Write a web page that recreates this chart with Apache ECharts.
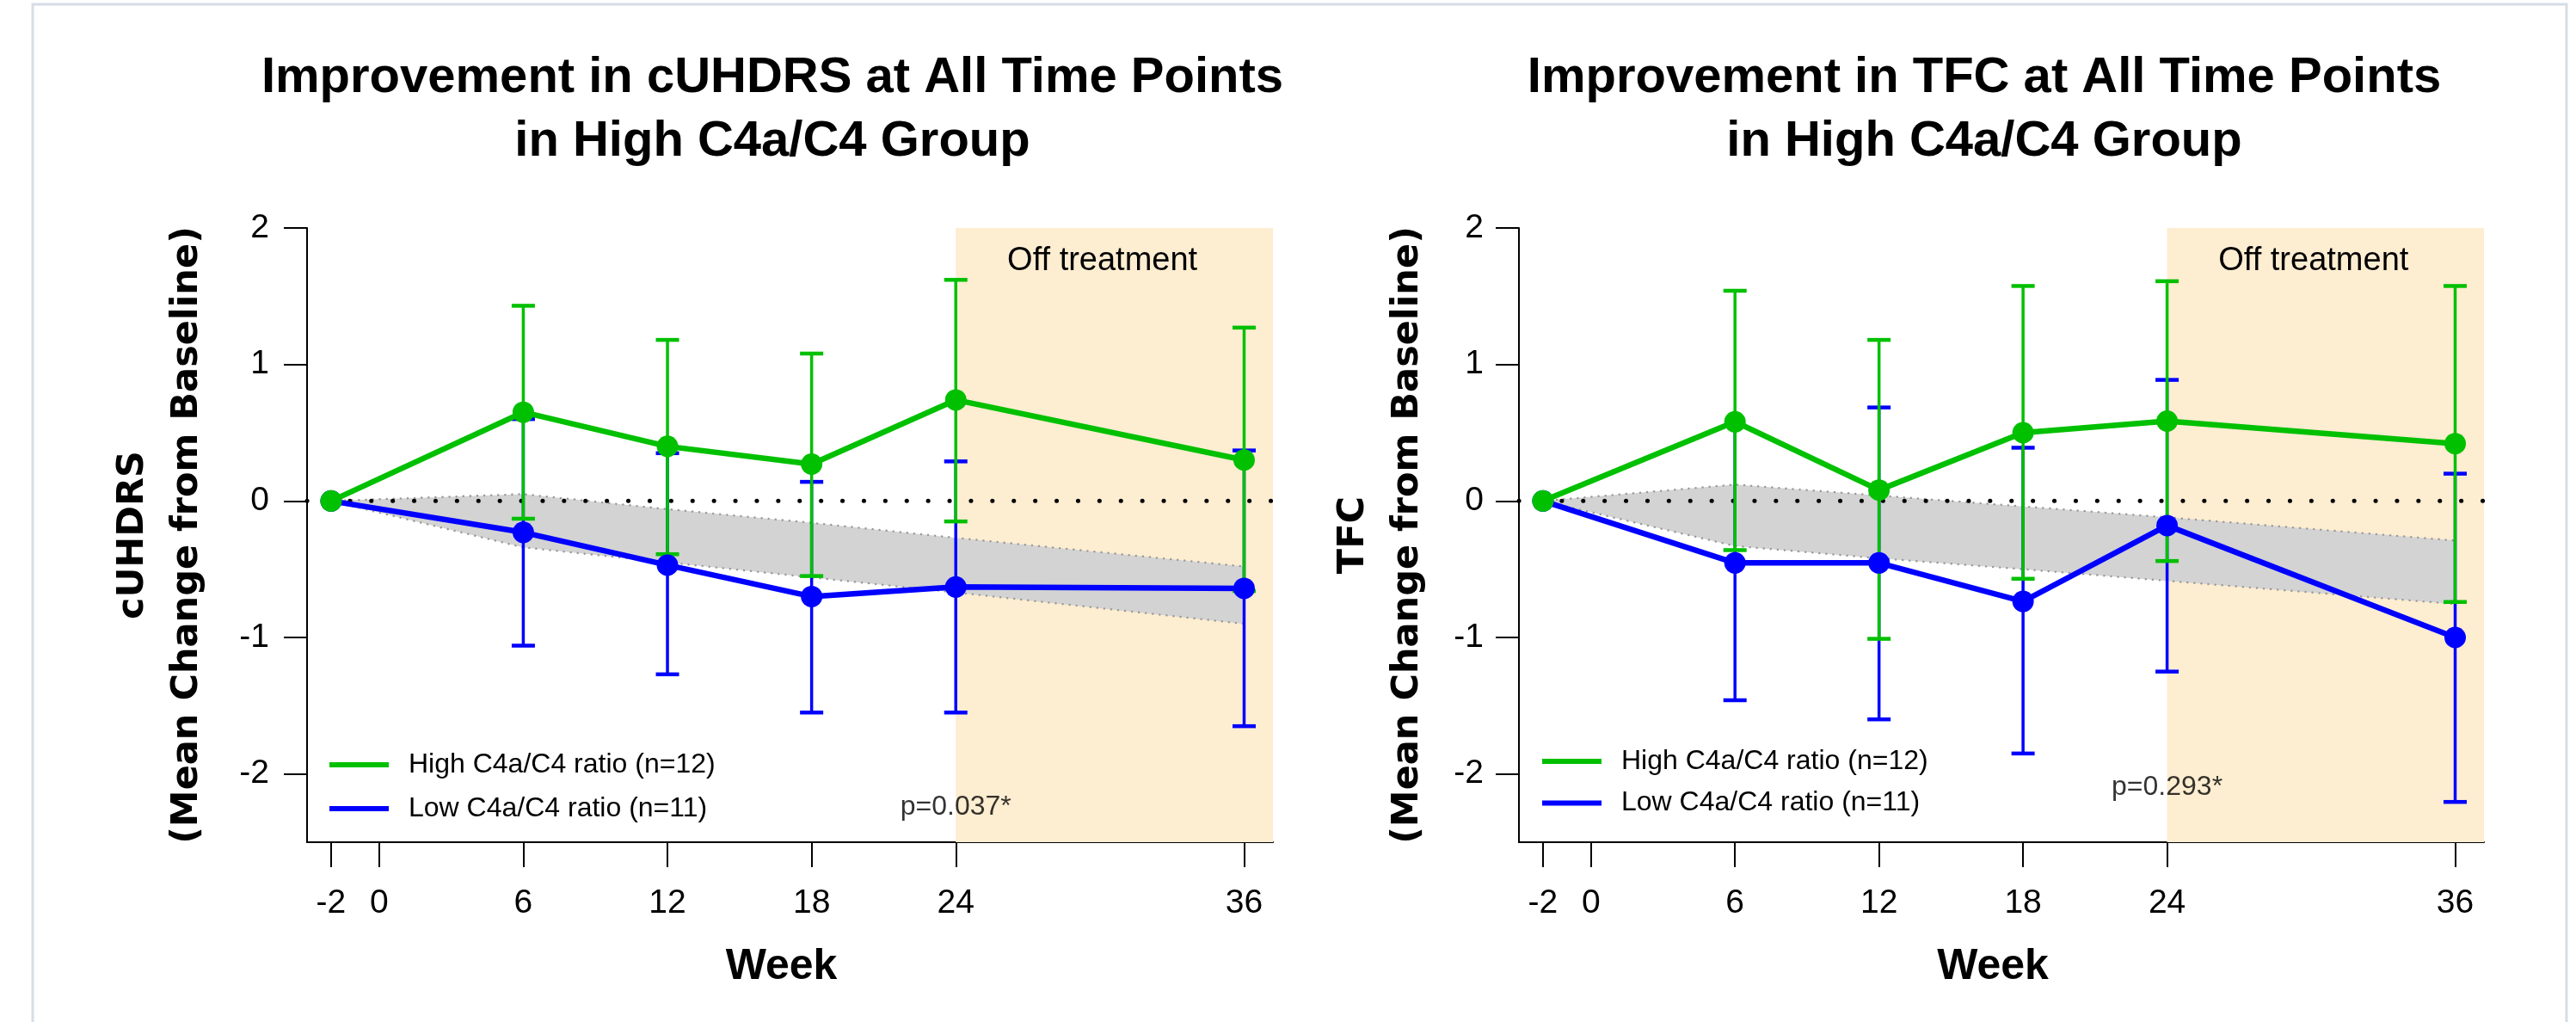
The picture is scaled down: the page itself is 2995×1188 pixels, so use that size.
<!DOCTYPE html>
<html>
<head>
<meta charset="utf-8">
<script src="https://cdn.jsdelivr.net/npm/echarts@6/dist/echarts.min.js"></script>
<style>
html,body{margin:0;padding:0;background:#fff;}
#chart{width:2995px;height:1188px;}
</style>
</head>
<body>
<div id="chart"></div>
<script>
// ---------------- DATA ----------------
const weeks = [-2, 6, 12, 18, 24, 36];
const xTicks = [-2, 0, 6, 12, 18, 24, 36];
const yTicks = [-2, -1, 0, 1, 2];
const highName = 'High C4a/C4 ratio (n=12)';
const lowName = 'Low C4a/C4 ratio (n=11)';

// Panel 1: cUHDRS
const cuHigh      = [0, 0.65, 0.40, 0.27, 0.74, 0.30];
const cuHighUpper = [null, 1.43, 1.18, 1.08, 1.62, 1.27];
const cuHighLower = [null, -0.13, -0.39, -0.55, -0.15, -0.66];
const cuLow       = [0, -0.23, -0.47, -0.70, -0.63, -0.64];
const cuLowUpper  = [null, 0.60, 0.35, 0.14, 0.29, 0.37];
const cuLowLower  = [null, -1.06, -1.27, -1.55, -1.55, -1.65];
const cuBandUpper = [0, 0.05, -0.06, -0.16, -0.27, -0.48];
const cuBandLower = [0, -0.34, -0.45, -0.56, -0.67, -0.90];

// Panel 2: TFC
const tfcHigh      = [0, 0.58, 0.08, 0.50, 0.585, 0.42];
const tfcHighUpper = [null, 1.54, 1.18, 1.575, 1.61, 1.575];
const tfcHighLower = [null, -0.36, -1.01, -0.57, -0.44, -0.74];
const tfcLow       = [0, -0.454, -0.454, -0.736, -0.18, -1.00];
const tfcLowUpper  = [null, 0.55, 0.685, 0.39, 0.887, 0.20];
const tfcLowLower  = [null, -1.46, -1.60, -1.85, -1.25, -2.205];
const tfcBandUpper = [0, 0.12, 0.04, -0.04, -0.12, -0.29];
const tfcBandLower = [0, -0.33, -0.42, -0.50, -0.585, -0.755];

const titles = [
  'Improvement in cUHDRS at All Time Points\nin High C4a/C4 Group',
  'Improvement in TFC at All Time Points\nin High C4a/C4 Group'
];
const yNames = ['cUHDRS\n(Mean Change from Baseline)', 'TFC\n(Mean Change from Baseline)'];
const pTexts = ['p=0.037*', 'p=0.293*'];
const pPos = [[24, -2.24], [24, -2.10]];
const offStart = 24;
const xRange = [-3, 37.2];
const yRange = [-2.5, 2];

// ---------------- STYLE ----------------
const GREEN = '#00C000';
const BLUE = '#0000FF';
const ORANGE = '#FDEDD1';
const BAND = '#D3D3D3';
const NARROW = '"Liberation Sans", Arial, sans-serif';
const WIDE = '"DejaVu Sans", Verdana, sans-serif';

const chart = echarts.init(document.getElementById('chart'), null, {renderer: 'canvas'});

function zip(xs, ys) { return xs.map((x, i) => [x, ys[i]]); }
function errData(xs, lo, hi) {
  const out = [];
  xs.forEach((x, i) => { if (lo[i] !== null && hi[i] !== null) out.push([x, lo[i], hi[i]]); });
  return out;
}
function errRender(color) {
  return function (params, api) {
    const x = api.value(0), lo = api.value(1), hi = api.value(2);
    const a = api.coord([x, hi]), b = api.coord([x, lo]);
    const hw = 13.5;
    return {
      type: 'group',
      children: [
        {type: 'line', shape: {x1: a[0], y1: a[1], x2: b[0], y2: b[1]}, style: {stroke: color, lineWidth: 3.5}},
        {type: 'line', shape: {x1: a[0] - hw, y1: a[1], x2: a[0] + hw, y2: a[1]}, style: {stroke: color, lineWidth: 4.5}},
        {type: 'line', shape: {x1: b[0] - hw, y1: b[1], x2: b[0] + hw, y2: b[1]}, style: {stroke: color, lineWidth: 4.5}}
      ]
    };
  };
}
function bandRender(xs, up, lo) {
  return function (params, api) {
    if (params.dataIndex !== 0) return null;
    const pts = [];
    xs.forEach((x, i) => pts.push(api.coord([x, up[i]])));
    for (let i = xs.length - 1; i >= 0; i--) pts.push(api.coord([xs[i], lo[i]]));
    return {
      type: 'polygon',
      shape: {points: pts},
      style: {fill: BAND, stroke: '#9a9a9a', lineWidth: 2.5, lineDash: [0.1, 8], lineCap: 'round'}
    };
  };
}

const grids = [
  {left: 357, top: 265, width: 1123, height: 714},
  {left: 1766, top: 265, width: 1122, height: 714}
];
const titleX = [898, 2307];
const yNameGap = [108, 98];
const ySeries = [
  {high: cuHigh, hu: cuHighUpper, hl: cuHighLower, low: cuLow, lu: cuLowUpper, ll: cuLowLower, bu: cuBandUpper, bl: cuBandLower},
  {high: tfcHigh, hu: tfcHighUpper, hl: tfcHighLower, low: tfcLow, lu: tfcLowUpper, ll: tfcLowLower, bu: tfcBandUpper, bl: tfcBandLower}
];
const legendPos = [{left: 383, top: 871, gap: 15}, {left: 1793, top: 867, gap: 12.5}];

const option = {
  animation: false,
  backgroundColor: '#ffffff',
  title: titles.map((t, i) => ({
    text: t, left: titleX[i], top: 54, textAlign: 'center', padding: 0,
    textStyle: {fontFamily: NARROW, fontWeight: 'bold', fontSize: 58, lineHeight: 74, color: '#000'}
  })),
  legend: legendPos.map((p, i) => ({
    orient: 'vertical', left: p.left, top: p.top, itemWidth: 69, itemHeight: 6, itemGap: p.gap,
    icon: 'rect', selectedMode: false, padding: 0,
    data: [highName, lowName],
    textStyle: {fontFamily: NARROW, fontSize: 32, lineHeight: 36, color: '#000', padding: [0, 0, 0, 18]}
  })),
  grid: grids,
  xAxis: grids.map((g, i) => ({
    type: 'value', gridIndex: i, min: xRange[0], max: xRange[1],
    name: 'Week', nameLocation: 'middle', nameGap: 120,
    nameTextStyle: {fontFamily: NARROW, fontWeight: 'bold', fontSize: 50, color: '#000', padding: [0, 20, 0, 0]},
    splitLine: {show: false},
    axisLine: {show: true, onZero: false, lineStyle: {color: '#000', width: 2}},
    axisTick: {show: true, customValues: xTicks, length: 29, lineStyle: {color: '#000', width: 2}},
    axisLabel: {show: true, customValues: xTicks, margin: 52, fontFamily: NARROW, fontSize: 39, color: '#000'}
  })),
  yAxis: grids.map((g, i) => ({
    type: 'value', gridIndex: i, min: yRange[0], max: yRange[1],
    name: yNames[i], nameLocation: 'middle', nameRotate: 90, nameGap: yNameGap[i],
    nameTextStyle: {fontFamily: WIDE, fontWeight: 'bold', fontSize: 43, lineHeight: 63, color: '#000', align: 'center'},
    splitLine: {show: false},
    axisLine: {show: true, onZero: false, lineStyle: {color: '#000', width: 2}},
    axisTick: {show: true, customValues: yTicks, length: 27, lineStyle: {color: '#000', width: 2}},
    axisLabel: {show: true, customValues: yTicks, margin: 44 - i * 3, fontFamily: NARROW, fontSize: 39, color: '#000'}
  })),
  series: []
};

[0, 1].forEach(i => {
  const d = ySeries[i];
  // orange off-treatment region
  option.series.push({
    type: 'line', xAxisIndex: i, yAxisIndex: i, z: 0, silent: true,
    data: [[offStart, 0]], symbol: 'none', lineStyle: {opacity: 0},
    markArea: {
      silent: true,
      itemStyle: {color: ORANGE},
      label: {show: true, position: 'insideTop', distance: 20, offset: [-14, 0],
        fontFamily: NARROW, fontSize: 38, color: '#000'},
      data: [[{name: 'Off treatment', coord: [offStart, yRange[1]]}, {coord: [xRange[1], yRange[0]]}]]
    }
  });
  // gray band
  option.series.push({
    type: 'custom', xAxisIndex: i, yAxisIndex: i, z: 1, silent: true,
    renderItem: bandRender(weeks, d.bu, d.bl),
    data: zip(weeks, d.bu)
  });
  // zero dotted line
  option.series.push({
    type: 'line', xAxisIndex: i, yAxisIndex: i, z: 2, silent: true,
    data: [[xRange[0], 0], [xRange[1], 0]], symbol: 'none',
    lineStyle: {color: '#000', width: 5, type: [0.1, 24.8], cap: 'round', dashOffset: 0}
  });
  // error bars
  option.series.push({
    type: 'custom', xAxisIndex: i, yAxisIndex: i, z: 3, silent: true,
    renderItem: errRender(BLUE), data: errData(weeks, d.ll, d.lu)
  });
  option.series.push({
    type: 'custom', xAxisIndex: i, yAxisIndex: i, z: 4, silent: true,
    renderItem: errRender(GREEN), data: errData(weeks, d.hl, d.hu)
  });
  // mean lines
  option.series.push({
    name: lowName, type: 'line', xAxisIndex: i, yAxisIndex: i, z: 5,
    data: zip(weeks, d.low), symbol: 'circle', symbolSize: 25,
    lineStyle: {color: BLUE, width: 6.5}, itemStyle: {color: BLUE}
  });
  option.series.push({
    name: highName, type: 'line', xAxisIndex: i, yAxisIndex: i, z: 6,
    data: zip(weeks, d.high), symbol: 'circle', symbolSize: 25,
    lineStyle: {color: GREEN, width: 6.5}, itemStyle: {color: GREEN}
  });
  // p-value text
  option.series.push({
    type: 'scatter', xAxisIndex: i, yAxisIndex: i, z: 7, silent: true,
    data: [pPos[i]], symbolSize: 0,
    label: {show: true, position: 'inside', formatter: pTexts[i], fontFamily: NARROW, fontSize: 32, color: '#000'}
  });
});

option.graphic = [{
  type: 'polyline', silent: true, z: 100,
  shape: {points: [[38, 1188], [38, 5], [2984, 5], [2984, 1188]]},
  style: {stroke: '#D6DDE5', lineWidth: 3, fill: null}
}];

chart.setOption(option);
</script>
</body>
</html>
